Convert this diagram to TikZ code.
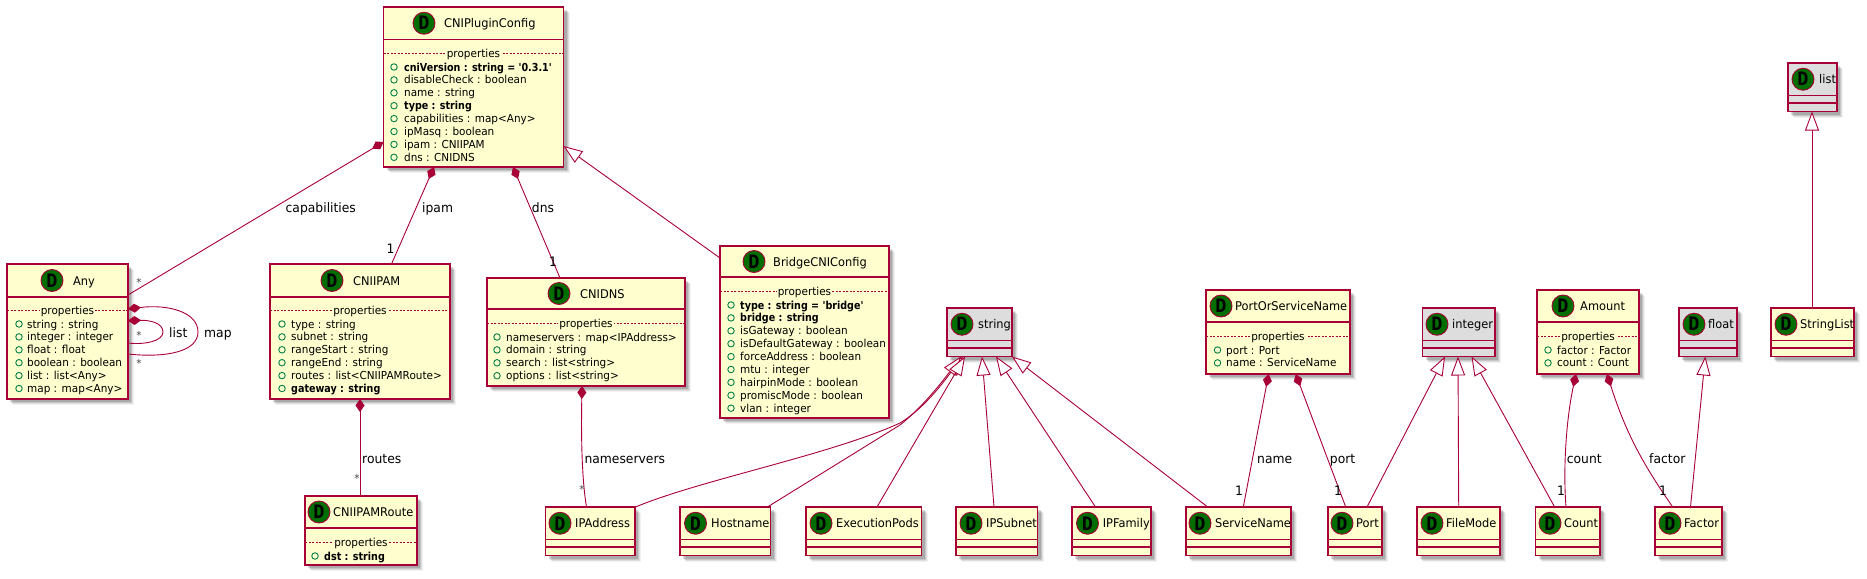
\documentclass[tikz,border=0pt]{standalone}
\usepackage{fontspec}
\usetikzlibrary{arrows.meta}
\newfontfamily\umlfont[FakeStretch=0.95,BoldFeatures={FakeStretch=0.87}]{DejaVu Sans}
\newfontfamily\spotfont{DejaVu Sans Mono}
\definecolor{umlred}{HTML}{A80036}
\definecolor{umlfill}{HTML}{FEFECE}
\definecolor{umlgrey}{HTML}{DDDDDD}
\definecolor{umlspot}{HTML}{006E00}
\definecolor{umlcirc}{HTML}{038048}
\newcommand\bd[1]{{\bfseries #1}}
\tikzset{
  x=1pt,y=-1pt,
  umlbox/.style={draw=umlred,line width=1.4pt,inner sep=0pt,outer sep=0pt,rectangle,anchor=north west},
  spot/.style={circle,draw=umlred,line width=.9pt,fill=umlspot,inner sep=0pt,outer sep=0pt,minimum size=22pt,text=black,font=\spotfont\bfseries\fontsize{18.5}{18.5}\selectfont},
  titletxt/.style={inner sep=0pt,anchor=base west,font=\umlfont\fontsize{12}{14}\selectfont},
  memtxt/.style={inner sep=0pt,anchor=base west,font=\umlfont\fontsize{11}{13}\selectfont},
  proptxt/.style={inner sep=1pt,anchor=base,font=\umlfont\fontsize{11}{13}\selectfont},
  memdot/.style={circle,draw=umlcirc,line width=.9pt,fill=none,inner sep=0pt,outer sep=0pt,minimum size=6.5pt},
  lbl/.style={inner sep=0pt,anchor=base west,font=\umlfont\fontsize{13}{15}\selectfont},
  mult/.style={inner sep=0pt,anchor=center,font=\umlfont\fontsize{13}{15}\selectfont},
  star/.style={inner sep=0pt,anchor=center,text=black!70,font=\umlfont\fontsize{11}{13}\selectfont},
  conn/.style={draw=umlred,line width=.9pt},
  comp/.style={conn,{Diamond[length=13pt,width=9pt,fill=umlred]}-},
  gen/.style={conn,{Triangle[length=19pt,width=14pt,fill=white,line width=.9pt]}-},
}
\newcommand\classtitle{}
% id, fill, x1, y1, x2, y2, header y, spot x, title x (title in \classtitle)
\newcommand\classhead[9]{%
  \foreach \k/\o in {6/.05,5/.08,4/.11,3/.14}{
    \fill[black,opacity=\o] ({#3+\k},{#4+\k}) rectangle ({#5+\k},{#6+\k});}
  \node[umlbox,fill=#2,minimum width={(#6-#6+#5-#3)*1pt},minimum height={(#6-#4)*1pt}] (#1) at (#3,#4) {};
  \draw[umlred,line width=1.4pt] (#3,#7) -- (#5,#7);
  \node[spot] (#1-spot) at (#8,{(#4+#7)/2}) {D};
  \node[titletxt] (#1-title) at (#9,{(#4+#7)/2+4.5}) {\classtitle};
}
% id, fill, x1, y1, x2, spot x, title x, title
\newcommand\emptybox[8]{%
  \renewcommand\classtitle{#8}%
  \pgfmathsetmacro\ybot{#4+48.5}%
  \pgfmathsetmacro\yhdr{#4+32.5}%
  \pgfmathsetmacro\ysec{#4+40}%
  \classhead{#1}{#2}{#3}{#4}{#5}{\ybot}{\yhdr}{#6}{#7}
  \draw[umlred,line width=1.4pt] (#3,\ysec) -- (#5,\ysec);
}
% id, x1, x2, dashed y, circle x, text x, first row y, rows
\newcommand\props[8]{%
  \draw[umlred,line width=.7pt,dash pattern=on 2pt off 1.5pt] (#2,#4) -- (#3,#4);
  \node[proptxt,fill=umlfill] (#1-props) at ({(#2+#3)/2},{#4+4}) {properties};
  \foreach \t [count=\i from 0] in {#8}{
    \node[memdot] (#1-dot\i) at (#5,{#7+12.9*\i}) {};
    \node[memtxt] (#1-mem\i) at (#6,{#7+12.9*\i+4}) {\t};
  }
}
\begin{document}
\begin{tikzpicture}
\fill[white] (0,0) rectangle (1867,578);
\useasboundingbox (0,0) rectangle (1867,578);

% data classes
\renewcommand\classtitle{CNIPluginConfig}
\classhead{plugin}{umlfill}{383.5}{7}{563.5}{167}{39.5}{424}{444}
\props{plugin}{383.5}{563.5}{53.3}{394}{404}{67}{\bd{cniVersion : string = '0.3.1'},disableCheck : boolean,name : string,\bd{type : string},capabilities : map<Any>,ipMasq : boolean,ipam : CNIIPAM,dns : CNIDNS}

\renewcommand\classtitle{Any}
\classhead{any}{umlfill}{7}{264}{128}{399}{297}{52}{73}
\props{any}{7}{128}{310}{19}{27}{324}{string : string,integer : integer,float : float,boolean : boolean,list : list<Any>,map : map<Any>}

\renewcommand\classtitle{CNIIPAM}
\classhead{cniipam}{umlfill}{270}{264}{450}{399}{297}{332}{353}
\props{cniipam}{270}{450}{310}{282}{291}{324}{type : string,subnet : string,rangeStart : string,rangeEnd : string,routes : list<CNIIPAMRoute>,\bd{gateway : string}}

\renewcommand\classtitle{CNIIPAMRoute}
\classhead{route}{umlfill}{305}{496}{417}{565}{528}{319}{333}
\props{route}{305}{417}{542}{315}{324}{556}{\bd{dst : string}}

\renewcommand\classtitle{CNIDNS}
\classhead{dns}{umlfill}{487}{278}{685}{386}{309}{559}{580}
\props{dns}{487}{685}{323}{497}{506}{337}{nameservers : map<IPAddress>,domain : string,search : list<string>,options : list<string>}

\renewcommand\classtitle{BridgeCNIConfig}
\classhead{bridge}{umlfill}{720}{246}{889}{418}{277}{754}{773}
\props{bridge}{720}{889}{291}{731}{740}{305}{\bd{type : string = 'bridge'},\bd{bridge : string},isGateway : boolean,isDefaultGateway : boolean,forceAddress : boolean,mtu : integer,hairpinMode : boolean,promiscMode : boolean,vlan : integer}

\renewcommand\classtitle{PortOrServiceName}
\classhead{posn}{umlfill}{1206}{290}{1350}{374}{322}{1221}{1235}
\props{posn}{1206}{1350}{336}{1217.5}{1226}{350}{port : Port,name : ServiceName}

\renewcommand\classtitle{Amount}
\classhead{amount}{umlfill}{1537}{290}{1639}{374}{322}{1563}{1580}
\props{amount}{1537}{1639}{336}{1548}{1557}{350}{factor : Factor,count : Count}

% empty classes
\emptybox{string}{umlgrey}{947}{308}{1012}{962}{978}{string}
\emptybox{integer}{umlgrey}{1422.5}{308}{1495}{1437}{1452}{integer}
\emptybox{float}{umlgrey}{1679}{308}{1737}{1694}{1708}{float}
\emptybox{list}{umlgrey}{1788}{63}{1837}{1803}{1819}{list}
\emptybox{stringlist}{umlfill}{1771}{308}{1854}{1786}{1800}{StringList}
\emptybox{ipaddr}{umlfill}{545.5}{507}{635}{560}{575}{IPAddress}
\emptybox{host}{umlfill}{680}{507}{770.5}{695.5}{711}{Hostname}
\emptybox{exec}{umlfill}{806}{507}{921.5}{821}{836}{ExecutionPods}
\emptybox{subnet}{umlfill}{956}{507}{1037.5}{971}{986}{IPSubnet}
\emptybox{family}{umlfill}{1072}{507}{1151}{1087.5}{1102.6}{IPFamily}
\emptybox{service}{umlfill}{1186}{507}{1291}{1200}{1215}{ServiceName}
\emptybox{port}{umlfill}{1328}{507}{1382}{1342}{1356}{Port}
\emptybox{filemode}{umlfill}{1417}{507}{1500}{1432}{1446}{FileMode}
\emptybox{count}{umlfill}{1535.6}{507}{1600}{1550}{1564}{Count}
\emptybox{factor}{umlfill}{1655}{507}{1722}{1670}{1684}{Factor}

% connectors
\draw[comp] ([yshift=25pt]plugin.south west) -- ([yshift=-31pt]any.north east);
\draw[comp] ([xshift=50.5pt]plugin.south west) -- ([xshift=121.5pt]cniipam.north west);
\draw[comp] ([xshift=129.5pt]plugin.south west) -- ([xshift=73pt]dns.north west);
\draw[gen] ([yshift=21pt]plugin.south east) -- ([yshift=-12pt]bridge.north west);
\draw[comp] ([yshift=-45pt]any.north east) .. controls (168,304) and (198,312) .. (198,332) .. controls (198,352) and (165,358) .. ([yshift=-90pt]any.north east);
\draw[comp] ([yshift=-56.7pt]any.north east) .. controls (150,320) and (163,323) .. (163,332) .. controls (163,341) and (145,345) .. ([yshift=-79pt]any.north east);
\draw[comp] ([xshift=90pt]cniipam.south west) -- ([xshift=55pt]route.north west);
\draw[comp] ([xshift=95pt]dns.south west) .. controls (581,440) and (582,480) .. ([xshift=41pt]ipaddr.north west);
\draw[gen] ([xshift=16pt]string.south west) .. controls (945,380) and (925,408) .. (900,423) .. controls (830,455) and (700,480) .. ([xshift=90pt]ipaddr.north west);
\draw[gen] ([xshift=14pt]string.south west) .. controls (945,378) and (925,405) .. (900,425) -- ([xshift=87.4pt]host.north west);
\draw[gen] ([xshift=18pt]string.south west) -- ([xshift=71pt]exec.north west);
\draw[gen] ([xshift=35pt]string.south west) -- ([xshift=38pt]subnet.north west);
\draw[gen] ([xshift=49pt]string.south west) -- ([xshift=23.5pt]family.north west);
\draw[gen] (string.south east) -- ([xshift=21.7pt]service.north west);
\draw[comp] ([xshift=62.6pt]posn.south west) -- ([xshift=57.3pt]service.north west);
\draw[comp] ([xshift=89.7pt]posn.south west) -- ([xshift=17.7pt]port.north west);
\draw[gen] ([xshift=22.5pt]integer.south west) -- ([xshift=39pt]port.north west);
\draw[gen] ([xshift=35.5pt]integer.south west) -- ([xshift=41.7pt]filemode.north west);
\draw[gen] ([xshift=49pt]integer.south west) -- ([xshift=19pt]count.north west);
\draw[comp] ([xshift=39pt]amount.south west) .. controls (1566,420) and (1563,470) .. ([xshift=30.4pt]count.north west);
\draw[comp] ([xshift=70pt]amount.south west) .. controls (1625,430) and (1640,460) .. ([xshift=17.7pt]factor.north west);
\draw[gen] ([xshift=26.3pt]float.south west) -- ([xshift=35.5pt]factor.north west);
\draw[gen] ([xshift=24pt]list.south west) -- ([xshift=41pt]stringlist.north west);

% connector labels
\node[lbl] (l-cap) at (285.5,212.5) {capabilities};
\node[lbl] (l-ipam) at (422,212.5) {ipam};
\node[lbl] (l-dns) at (531.7,212.5) {dns};
\node[lbl] (l-list) at (169,337.5) {list};
\node[lbl] (l-map) at (204,337.5) {map};
\node[lbl] (l-routes) at (362,463.5) {routes};
\node[lbl] (l-ns) at (584.3,463.5) {nameservers};
\node[lbl] (l-name) at (1257,463.5) {name};
\node[lbl] (l-port) at (1329.7,463.5) {port};
\node[lbl] (l-count) at (1566.6,463.5) {count};
\node[lbl] (l-factor) at (1649,463.5) {factor};
\node[mult] (m1) at (390.5,249) {1};
\node[mult] (m2) at (553,262) {1};
\node[mult] (m3) at (1239,491) {1};
\node[mult] (m4) at (1338,491) {1};
\node[mult] (m5) at (1561,491) {1};
\node[mult] (m6) at (1663,491) {1};
\node[star] (s1) at (139,282) {*};
\node[star] (s2) at (139,335) {*};
\node[star] (s3) at (139,363) {*};
\node[star] (s4) at (357,478) {*};
\node[star] (s5) at (582,489) {*};
\end{tikzpicture}
\end{document}
